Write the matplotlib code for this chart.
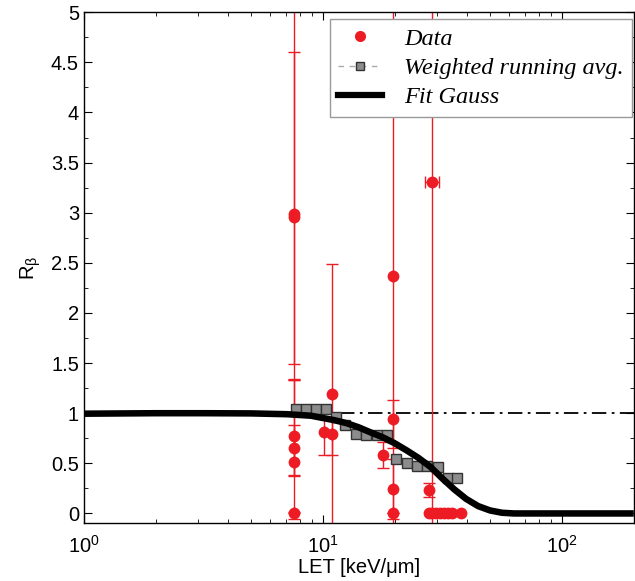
import matplotlib
matplotlib.use("Agg")
import matplotlib.pyplot as plt
from matplotlib.lines import Line2D
from matplotlib.ticker import MultipleLocator, LogLocator, NullFormatter

plt.rcParams["font.family"] = ["Liberation Sans", "DejaVu Sans"]
plt.rcParams["mathtext.default"] = "regular"

# measured points (LET, R_beta, lower err, upper err)
data_let = [7.6, 7.6, 7.6, 7.6, 7.6, 7.6, 10.07, 10.9, 10.9, 17.8,
            19.7, 19.7, 19.7, 19.7, 27.7, 28.6]
data_r = [2.99, 2.96, 0.77, 0.65, 0.515, 0.0, 0.81, 1.19, 0.79, 0.58,
          2.37, 0.94, 0.24, 0.0, 0.232, 3.31]
data_lo = [1.50, 1.62, 0.40, 0.27, 0.50, 0.06, 0.23, 1.35, 0.21, 0.13,
           2.60, 0.29, 0.30, 0.0, 0.072, 3.50]
data_hi = [1.61, 2.60, 0.56, 0.23, 0.82, 0.0, 0.23, 1.30, 0.21, 0.13,
           2.80, 0.195, 0.30, 0.0, 0.072, 2.00]
data_xlo = [0, 0, 0, 0, 0, 0, 0, 0, 0, 0, 0, 0, 0, 0, 0, 1.9]
data_xhi = [0, 0, 0, 0, 0, 0, 0, 0, 0, 0, 0, 0, 0, 0, 0, 2.1]

# zeros without visible error bars
zero_let = [27.7, 28.7, 29.9, 31.0, 32.2, 33.5, 34.8, 37.8]
zero_r = [0, 0, 0, 0, 0, 0, 0, 0]

# weighted running average
avg_let = [7.69, 8.47, 9.33, 10.3, 11.4, 12.4, 13.8, 15.1, 16.8, 18.5,
           20.3, 22.4, 24.7, 27.3, 30.2, 33.3, 36.6]
avg_r = [1.046, 1.046, 1.046, 1.046, 0.959, 0.883, 0.794, 0.787, 0.787, 0.787,
         0.545, 0.501, 0.471, 0.471, 0.461, 0.352, 0.352]

# gauss fit curve
fit_let = [1.0, 2.0, 3.16, 5.0, 7.08, 8.91, 11.2, 12.6, 14.1, 15.8, 17.8, 20.0,
           22.4, 25.1, 28.2, 31.6, 35.5, 39.8, 44.7, 50.1, 56.2, 63.1, 80.0, 200.0]
fit_r = [0.995, 1.0, 1.0, 0.998, 0.99, 0.975, 0.93, 0.90, 0.86, 0.81, 0.76, 0.70,
         0.63, 0.555, 0.465, 0.35, 0.24, 0.145, 0.073, 0.03, 0.007, 0.0, 0.0, 0.0]

red = "#ed1c24"

fig = plt.figure(figsize=(6.35, 5.81), dpi=100)
ax = fig.add_axes([0.132, 0.099, 0.866, 0.880])

ax.hlines(1.0, 11.8, 200, colors="black", linestyles=(0, (8, 3, 1.5, 3)), lw=1.3, zorder=1)

# error bars first, markers on top
ax.errorbar(data_let, data_r, yerr=[data_lo, data_hi], xerr=[data_xlo, data_xhi],
            fmt="none", ecolor=red, elinewidth=1.0, capsize=4, capthick=1.0, zorder=2)
ax.plot(data_let, data_r, "o", color=red, markersize=8.5, markeredgewidth=0, zorder=3)
ax.plot(zero_let, zero_r, "o", color=red, markersize=8.5, markeredgewidth=0, zorder=3)

ax.plot(avg_let, avg_r, "s", color="#8c8c8c", markeredgecolor="#333333",
        markeredgewidth=1.0, markersize=7, zorder=4)

ax.plot(fit_let, fit_r, "-", color="black", lw=4.7, zorder=5, solid_capstyle="butt")

ax.set_xscale("log")
ax.set_xlim(1, 200)
ax.set_ylim(-0.1, 5)
ax.yaxis.set_minor_locator(MultipleLocator(0.25))
ax.set_yticks([0, 0.5, 1, 1.5, 2, 2.5, 3, 3.5, 4, 4.5, 5])
ax.set_yticklabels(["0", "0.5", "1", "1.5", "2", "2.5", "3", "3.5", "4", "4.5", "5"])
ax.xaxis.set_minor_locator(LogLocator(base=10, subs=range(2, 10)))
ax.xaxis.set_minor_formatter(NullFormatter())
ax.tick_params(which="both", direction="in", top=True, right=True, labelsize=14.5)
ax.tick_params(which="major", length=6)
ax.tick_params(which="minor", length=3)
ax.tick_params(axis="x", pad=8)
for s in ax.spines.values():
    s.set_linewidth(1.0)

ax.set_xlabel("LET [keV/\u03bcm]", fontsize=14.5, labelpad=1)
ax.set_ylabel(r"R$_\beta$", fontsize=14.5, labelpad=6)

handles = [
    Line2D([], [], marker="o", color=red, linestyle="none", markersize=8, markeredgewidth=0),
    Line2D([], [], marker="s", color="#aaaaaa", linestyle=(0, (4, 4)), lw=1.0,
           markerfacecolor="#8c8c8c", markeredgecolor="#333333", markersize=6),
    Line2D([], [], color="black", lw=4.5),
]
leg = ax.legend(handles, ["Data", "Weighted running avg.", "Fit Gauss"],
                loc="upper right", bbox_to_anchor=(0.997, 0.986), borderaxespad=0,
                fancybox=False, framealpha=1, edgecolor="#999999", handlelength=1.8,
                prop={"family": "Liberation Serif", "style": "italic", "size": 17.5},
                borderpad=0.35, labelspacing=0.3, handletextpad=0.9)
leg.get_frame().set_linewidth(1.0)

fig.savefig("out.png", dpi=100)
